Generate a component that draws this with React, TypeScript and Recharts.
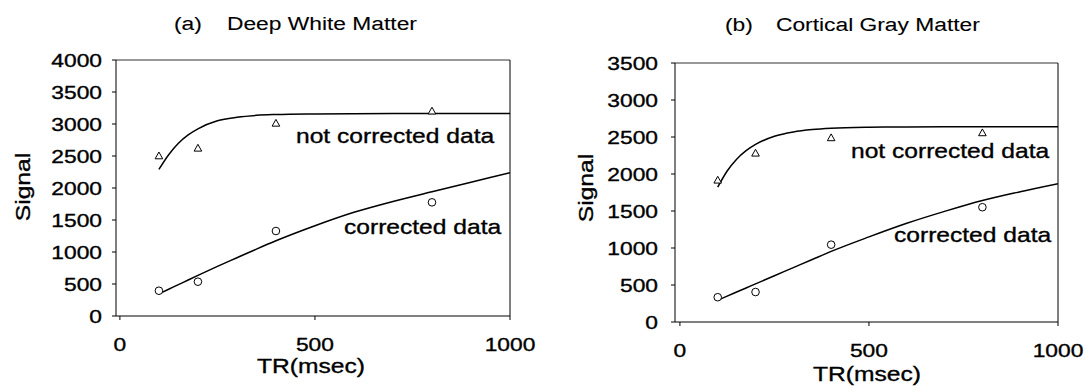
import React from 'react'
import { ComposedChart, Line, Scatter, XAxis, YAxis, ReferenceLine } from 'recharts'

// measured TR values and signals
const trPoints = [100, 200, 400, 800]
const wmNotCorrected = [2500, 2620, 3010, 3200]
const wmCorrected = [395, 536, 1328, 1776]
const gmNotCorrected = [1915, 2280, 2488, 2555]
const gmCorrected = [335, 405, 1045, 1551]

// fitted curves
const fitTR = [100, 125, 150, 175, 200, 250, 300, 350, 400, 500, 600, 700, 800, 900, 1000]
const wmNotCorrectedFit = [2290, 2520, 2700, 2830, 2925, 3050, 3105, 3135, 3148, 3158, 3162, 3164, 3165, 3165, 3165]
const wmCorrectedFit = [345, 418, 490, 563, 635, 775, 910, 1045, 1175, 1410, 1620, 1790, 1940, 2090, 2240]
const gmNotCorrectedFit = [1822, 2040, 2200, 2315, 2400, 2510, 2568, 2600, 2618, 2632, 2636, 2638, 2638, 2638, 2638]
const gmCorrectedFit = [294, 350, 405, 460, 515, 625, 735, 845, 954, 1150, 1334, 1495, 1642, 1760, 1868]

const xTicks = [0, 500, 1000]
const wmYTicks = [0, 500, 1000, 1500, 2000, 2500, 3000, 3500, 4000]
const gmYTicks = [0, 500, 1000, 1500, 2000, 2500, 3000, 3500]

const FONT = '"Liberation Sans", Arial, Helvetica, sans-serif'
const pairs = (xs: number[], ys: number[]) => xs.map((x, i) => ({ x, y: ys[i] }))

const XTick = (p: any) => (
  <text transform={`translate(${p.x},${p.y + 29}) scale(1.2,1)`} textAnchor="middle" fontSize={19} fontFamily={FONT} fill="#000" stroke="#000" strokeWidth={0.35}>
    {p.payload.value}
  </text>
)

const YTick = (p: any) => (
  <text transform={`translate(${p.x},${p.y + 7}) scale(1.2,1)`} textAnchor="end" fontSize={19} fontFamily={FONT} fill="#000" stroke="#000" strokeWidth={0.35}>
    {p.payload.value}
  </text>
)

const Triangle = (p: any) => (
  <path
    d={`M${p.cx},${p.cy - 4} L${p.cx + 3.8},${p.cy + 2.8} L${p.cx - 3.8},${p.cy + 2.8} Z`}
    fill="#fff"
    stroke="#000"
    strokeWidth={1}
  />
)

const Circle = (p: any) => <circle cx={p.cx} cy={p.cy} r={3.8} fill="#fff" stroke="#000" strokeWidth={1} />

interface PanelProps {
  left: number
  xMin: number
  yMax: number
  yTicks: number[]
  yAxisWidth: number
  tickMargin: number
  margin: { top: number; right: number; bottom: number; left: number }
  notCorrected: number[]
  corrected: number[]
  notCorrectedFit: number[]
  correctedFit: number[]
}

const Panel = (props: PanelProps) => (
  <div style={{ position: 'absolute', left: props.left, top: 0 }}>
    <ComposedChart width={545} height={392} margin={props.margin}>
      <XAxis
        type="number"
        dataKey="x"
        domain={[props.xMin, 1000]}
        ticks={xTicks}
        allowDataOverflow
        height={46}
        tickSize={4}
        tickMargin={2}
        tick={XTick}
        axisLine={{ stroke: '#000' }}
        tickLine={{ stroke: '#000' }}
      />
      <YAxis
        type="number"
        domain={[0, props.yMax]}
        ticks={props.yTicks}
        width={props.yAxisWidth}
        tickSize={4}
        tickMargin={props.tickMargin}
        tick={YTick}
        axisLine={{ stroke: '#000' }}
        tickLine={{ stroke: '#000' }}
      />
      <ReferenceLine y={props.yMax} stroke="#333" />
      <ReferenceLine x={1000} stroke="#000" />
      <Line data={pairs(fitTR, props.notCorrectedFit)} dataKey="y" type="monotone" stroke="#000" strokeWidth={1.5} dot={false} isAnimationActive={false} />
      <Line data={pairs(fitTR, props.correctedFit)} dataKey="y" type="monotone" stroke="#000" strokeWidth={1.5} dot={false} isAnimationActive={false} />
      <Scatter data={pairs(trPoints, props.notCorrected)} dataKey="y" shape={Triangle} isAnimationActive={false} />
      <Scatter data={pairs(trPoints, props.corrected)} dataKey="y" shape={Circle} isAnimationActive={false} />
    </ComposedChart>
  </div>
)

const T = ({ x, y, size = 20.5, anchor = 'start', rotate = false, heavy = true, children }: any) => (
  <text
    transform={`translate(${x},${y})${rotate ? ' rotate(-90)' : ''} scale(1.2,1)`}
    textAnchor={anchor}
    fontSize={size}
    fontFamily={FONT}
    fill="#000"
    stroke="#000"
    strokeWidth={heavy ? 0.35 : 0.1}
  >
    {children}
  </text>
)

export default function App() {
  return (
    <div style={{ position: 'absolute', left: 0, top: 0, width: 1089, height: 392, background: '#fff' }}>
      <Panel
        left={0}
        xMin={-10}
        yMax={4000}
        yTicks={wmYTicks}
        yAxisWidth={106}
        tickMargin={10}
        margin={{ top: 60, right: 35, bottom: 30, left: 10 }}
        notCorrected={wmNotCorrected}
        corrected={wmCorrected}
        notCorrectedFit={wmNotCorrectedFit}
        correctedFit={wmCorrectedFit}
      />
      <Panel
        left={544}
        xMin={-13}
        yMax={3500}
        yTicks={gmYTicks}
        yAxisWidth={121}
        tickMargin={13}
        margin={{ top: 63, right: 31, bottom: 24, left: 10 }}
        notCorrected={gmNotCorrected}
        corrected={gmCorrected}
        notCorrectedFit={gmNotCorrectedFit}
        correctedFit={gmCorrectedFit}
      />
      <svg width={1089} height={392} style={{ position: 'absolute', left: 0, top: 0, pointerEvents: 'none' }}>
        <T x={174} y={30} size={19} heavy={false}>(a)</T>
        <T x={227} y={30} size={19} heavy={false}>Deep White Matter</T>
        <T x={725} y={31} size={19} heavy={false}>(b)</T>
        <T x={776} y={31} size={19} heavy={false}>Cortical Gray Matter</T>

        <T x={296} y={143}>not corrected data</T>
        <T x={344} y={234}>corrected data</T>
        <T x={851} y={158}>not corrected data</T>
        <T x={894} y={242}>corrected data</T>

        <T x={311} y={373} anchor="middle">TR(msec)</T>
        <T x={867} y={381} anchor="middle">TR(msec)</T>
        <T x={30} y={187} anchor="middle" rotate>Signal</T>
        <T x={593} y={188} anchor="middle" rotate>Signal</T>
      </svg>
    </div>
  )
}
